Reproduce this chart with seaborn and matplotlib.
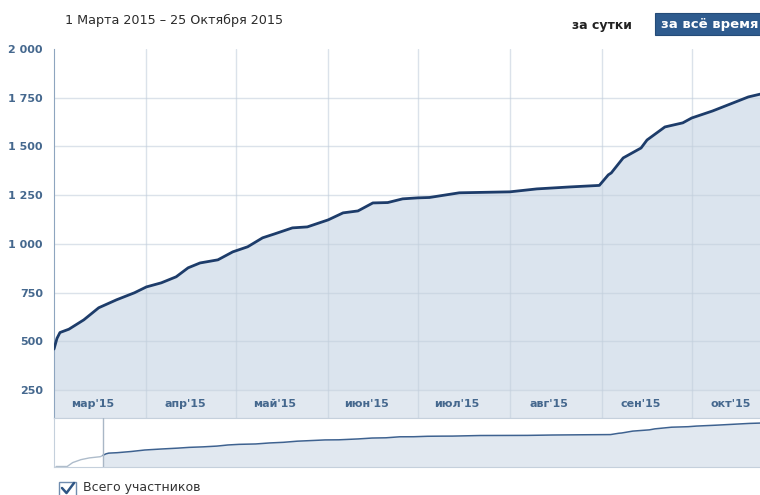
import matplotlib
matplotlib.use("Agg")
import matplotlib.pyplot as plt
import matplotlib.dates as mdates
from matplotlib.patches import Rectangle
from matplotlib.lines import Line2D
import pandas as pd
import seaborn as sns

# --- Данные: всего участников (Mar 1 – Oct 25 2015) ---
dates = ["2015-03-01", "2015-03-02", "2015-03-03", "2015-03-06", "2015-03-11", "2015-03-16",
         "2015-03-22", "2015-03-28", "2015-04-01", "2015-04-06", "2015-04-11", "2015-04-15",
         "2015-04-19", "2015-04-25", "2015-04-30", "2015-05-05", "2015-05-10", "2015-05-14",
         "2015-05-20", "2015-05-25", "2015-06-01", "2015-06-06", "2015-06-11", "2015-06-16",
         "2015-06-21", "2015-06-26", "2015-07-01", "2015-07-05", "2015-07-15", "2015-08-01",
         "2015-08-10", "2015-08-21", "2015-08-31", "2015-09-03", "2015-09-04", "2015-09-08",
         "2015-09-14", "2015-09-16", "2015-09-22", "2015-09-28", "2015-10-01", "2015-10-08",
         "2015-10-14", "2015-10-20", "2015-10-25"]
members = [460, 515, 545, 562, 610, 672,
           713, 749, 779, 800, 831, 877,
           902, 918, 959, 985, 1031, 1051,
           1082, 1087, 1123, 1159, 1169, 1210,
           1212, 1231, 1236, 1238, 1262, 1267,
           1282, 1292, 1300, 1354, 1364, 1441,
           1492, 1533, 1600, 1621, 1646, 1682,
           1718, 1754, 1772]

# история до выбранного периода (только в навигаторе)
pre_dates = ["2015-02-12", "2015-02-16", "2015-02-18", "2015-02-21", "2015-02-24", "2015-02-28", "2015-03-01"]
pre_members = [0, 0, 160, 280, 350, 400, 460]

month_starts = ["2015-03-01", "2015-04-01", "2015-05-01", "2015-06-01",
                "2015-07-01", "2015-08-01", "2015-09-01", "2015-10-01"]
month_labels = ["мар'15", "апр'15", "май'15", "июн'15", "июл'15", "авг'15", "сен'15", "окт'15"]
month_label_pos = ["2015-03-14", "2015-04-14", "2015-05-14", "2015-06-14",
                   "2015-07-14", "2015-08-14", "2015-09-14", "2015-10-14"]
y_ticks = [250, 500, 750, 1000, 1250, 1500, 1750, 2000]

df = pd.DataFrame({"date": pd.to_datetime(dates), "members": members})
df_pre = pd.DataFrame({"date": pd.to_datetime(pre_dates), "members": pre_members})

sns.set_style("white")
plt.rcParams['font.family'] = ['DejaVu Sans']

line_col = '#1d3c6a'
fill_col = '#dbe4ee'
band_col = '#e1e8f0'
grid_col = '#c3cfdc'
label_col = '#45688e'

W, H = 760, 495
fig = plt.figure(figsize=(W / 100, H / 100), dpi=100)

# --- основной график ---
ax = fig.add_axes([54 / W, 1 - 418 / H, 1 - 54 / W, (418 - 49) / H])
y0 = 250 - 28 * (1750 / 341)
x0 = mdates.date2num(pd.Timestamp("2015-03-01"))
ax.set_xlim(x0, x0 + 706 / 2.98)
ax.set_ylim(y0, 2000)

ax.fill_between(df["date"], df["members"], y0, color=fill_col, lw=0, zorder=1)
ax.axhspan(y0, 250, color=band_col, lw=0, zorder=1.5)
sns.lineplot(data=df, x="date", y="members", ax=ax, color=line_col, lw=2.0, zorder=3)

for v in y_ticks[:-1]:
    ax.axhline(v, color=grid_col, alpha=0.6, lw=1, zorder=2)
for d in month_starts[1:]:
    ax.axvline(pd.Timestamp(d), color=grid_col, alpha=0.6, lw=1, zorder=2)

ax.set_xticks([])
ax.set_yticks(y_ticks)
ax.set_yticklabels([f"{v:,}".replace(",", " ") for v in y_ticks])
ax.tick_params(axis='y', length=0, pad=8, labelsize=8, labelcolor=label_col)
for t in ax.get_yticklabels():
    t.set_fontweight('bold')
ax.set_xlabel("")
ax.set_ylabel("")

yc = (y0 + 250) / 2
for lab, pos in zip(month_labels, month_label_pos):
    ax.text(pd.Timestamp(pos), yc, lab, ha='center', va='center', fontsize=8,
            fontweight='bold', color=label_col, zorder=4)

for s in ['top', 'right']:
    ax.spines[s].set_visible(False)
ax.spines['left'].set_color('#8ea5bf')
ax.spines['bottom'].set_color('#c5d0dc')

# --- навигатор ---
ax2 = fig.add_axes([54 / W, 1 - 467 / H, 1 - 54 / W, 49 / H])
ax2.set_xlim(x0 - 49 / 2.762, x0 + 706 / 2.98)
ax2.set_ylim(-20, 1975)
ax2.fill_between(df["date"], df["members"], -20, color=band_col, lw=0, zorder=1)
sns.lineplot(data=df_pre, x="date", y="members", ax=ax2, color='#aebccb', lw=1, zorder=2)
sns.lineplot(data=df, x="date", y="members", ax=ax2, color='#3e6290', lw=1.1, zorder=2)
ax2.axvline(pd.Timestamp(month_starts[0]), color='#a9b7c6', lw=1, zorder=3)
ax2.set_xticks([])
ax2.set_yticks([])
ax2.set_xlabel("")
ax2.set_ylabel("")
for s in ax2.spines.values():
    s.set_color('#c5d0dc')
ax2.spines['right'].set_visible(False)

# --- подписи сверху ---
fig.text(65 / W, 1 - 20 / H, "1 Марта 2015 – 25 Октября 2015", va='center',
         fontsize=9.2, color='#2b2b2b')
fig.text(572 / W, 1 - 25 / H, "за сутки", va='center', fontsize=9,
         fontweight='bold', color='#222222')
fig.patches.append(Rectangle((655 / W, 1 - 35 / H), 110 / W, 22 / H,
                             transform=fig.transFigure, facecolor='#2e5b8e',
                             edgecolor='#244b78', lw=0.8))
fig.text(661 / W, 1 - 24.5 / H, "за всё время", va='center', fontsize=9.5,
         fontweight='bold', color='white')

# --- легенда (чекбокс) ---
fig.patches.append(Rectangle((59 / W, 1 - 497 / H), 17 / W, 15 / H,
                             transform=fig.transFigure, facecolor='white',
                             edgecolor='#6f8cae', lw=1, clip_on=False))
fig.lines.append(Line2D([62 / W, 66.5 / W, 74 / W], [1 - 488 / H, 1 - 493 / H, 1 - 483 / H],
                        transform=fig.transFigure, color='#2f5685', lw=1.8))
fig.text(83 / W, 1 - 488 / H, "Всего участников", va='center', fontsize=9, color='#333333')

fig.savefig("out.png", dpi=100)
